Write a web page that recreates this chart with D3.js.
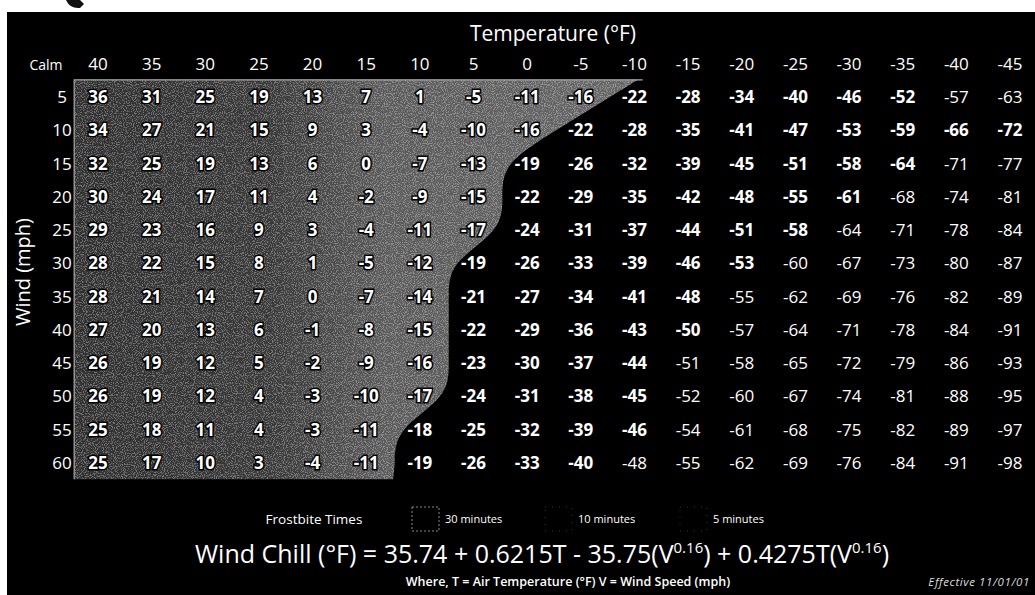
<!DOCTYPE html>
<html>
<head>
<meta charset="utf-8">
<script src="https://cdn.jsdelivr.net/npm/d3@7"></script>
<style>
  html,body{margin:0;padding:0;background:#fff;}
  svg{display:block;}
  text{font-family:"Open Sans","Noto Sans",sans-serif;}
</style>
</head>
<body>
<svg id="chart" width="1035" height="595"></svg>
<script>
// ---- data ----
const temperatures = [40,35,30,25,20,15,10,5,0,-5,-10,-15,-20,-25,-30,-35,-40,-45];
const tempLabels = ["40","35","30","25","20","15","10","5","0","-5","-10","-15","-20","-25","-30","-35","-40","-45"];
const winds = [5,10,15,20,25,30,35,40,45,50,55,60];
const chill5  = [36,31,25,19,13,7,1,-5,-11,-16,-22,-28,-34,-40,-46,-52,-57,-63];
const chill10 = [34,27,21,15,9,3,-4,-10,-16,-22,-28,-35,-41,-47,-53,-59,-66,-72];
const chill15 = [32,25,19,13,6,0,-7,-13,-19,-26,-32,-39,-45,-51,-58,-64,-71,-77];
const chill20 = [30,24,17,11,4,-2,-9,-15,-22,-29,-35,-42,-48,-55,-61,-68,-74,-81];
const chill25 = [29,23,16,9,3,-4,-11,-17,-24,-31,-37,-44,-51,-58,-64,-71,-78,-84];
const chill30 = [28,22,15,8,1,-5,-12,-19,-26,-33,-39,-46,-53,-60,-67,-73,-80,-87];
const chill35 = [28,21,14,7,0,-7,-14,-21,-27,-34,-41,-48,-55,-62,-69,-76,-82,-89];
const chill40 = [27,20,13,6,-1,-8,-15,-22,-29,-36,-43,-50,-57,-64,-71,-78,-84,-91];
const chill45 = [26,19,12,5,-2,-9,-16,-23,-30,-37,-44,-51,-58,-65,-72,-79,-86,-93];
const chill50 = [26,19,12,4,-3,-10,-17,-24,-31,-38,-45,-52,-60,-67,-74,-81,-88,-95];
const chill55 = [25,18,11,4,-3,-11,-18,-25,-32,-39,-46,-54,-61,-68,-75,-82,-89,-97];
const chill60 = [25,17,10,3,-4,-11,-19,-26,-33,-40,-48,-55,-62,-69,-76,-84,-91,-98];
const chillRows = [chill5,chill10,chill15,chill20,chill25,chill30,chill35,chill40,chill45,chill50,chill55,chill60];
// temperature of the last column without frostbite risk, per wind row
const safeLastTemp = [-5,0,5,5,5,10,10,10,10,10,15,15];
// temperature of the first 5-minute frostbite column, per wind row
const fiveMinFirstTemp = [-40,-50,-40,-35,-30,-25,-20,-20,-15,-15,-15,-10];
const legendLabels = ["30 minutes","10 minutes","5 minutes"];

// ---- layout ----
const svg = d3.select("#chart");
const W = 1035, H = 595;

svg.append("rect").attr("x",0).attr("y",0).attr("width",W).attr("height",H).attr("fill","#fff");
svg.append("rect").attr("x",7).attr("y",12).attr("width",W-7).attr("height",H-12).attr("fill","#000");
// scan artefact at top
svg.append("path").attr("d","M66,0 Q70,9 80,8 L84,4 L80,0 Z").attr("fill","#111");

const x = d3.scalePoint().domain(temperatures).range([98,1010]);
const y = d3.scalePoint().domain(winds).range([97,463]);
const step = x.step();
const rowStep = y.step();

// defs
const defs = svg.append("defs");
const grad = defs.append("linearGradient").attr("id","g").attr("x1","0").attr("x2","1").attr("y1","0").attr("y2","0");
grad.append("stop").attr("offset","0").attr("stop-color","#2f2f2f");
grad.append("stop").attr("offset","0.35").attr("stop-color","#383838");
grad.append("stop").attr("offset","0.55").attr("stop-color","#5a5a5a");
grad.append("stop").attr("offset","1").attr("stop-color","#666");

const f = defs.append("filter").attr("id","speck").attr("x","0").attr("y","0").attr("width","1").attr("height","1");
f.append("feTurbulence").attr("type","fractalNoise").attr("baseFrequency","0.9").attr("numOctaves","1").attr("seed","7").attr("result","t");
f.append("feColorMatrix").attr("in","t").attr("type","matrix")
  .attr("values","0 0 0 0 1  0 0 0 0 1  0 0 0 0 1  7 0 0 0 -3.4").attr("result","w");
f.append("feComposite").attr("in","w").attr("in2","SourceGraphic").attr("operator","in");

// safe (gray) region path
const regTop = y(5) - rowStep/2 - 0.5;
const regBottom = y(60) + rowStep/2 - 0.5;
const regLeft = x(40) - step/2 + 3;
const pts = [];
pts.push([x(safeLastTemp[0]) + step/2 + 30, regTop]);
winds.forEach((w,i)=>{ pts.push([x(safeLastTemp[i]) + step/2 + 2, y(w)]); });
pts.push([x(safeLastTemp[safeLastTemp.length-1]) + step/2, regBottom]);
const edge = d3.line().curve(d3.curveBasis)(pts);
const regionD = `M${regLeft},${regTop} L${pts[0][0]},${regTop} ` + edge.replace(/^M[^CL]*/, "L"+pts[0][0]+","+pts[0][1]) + ` L${regLeft},${regBottom} Z`;

svg.append("path").attr("d",regionD).attr("fill","url(#g)");
svg.append("path").attr("d",regionD).attr("fill","#fff").attr("filter","url(#speck)").attr("opacity",0.32);
svg.append("path").attr("d",`M${regLeft},${regBottom} L${regLeft},${regTop} L${pts[0][0]+5},${regTop}`).attr("fill","none").attr("stroke","#aaa").attr("stroke-width",1.2);

// title
svg.append("text").attr("x",553).attr("y",41).attr("text-anchor","middle")
  .attr("fill","#fff").attr("font-size",21).text("Temperature (°F)");

// header row
const headY = 70;
svg.append("text").attr("x",46).attr("y",headY).attr("text-anchor","middle").attr("fill","#fff").attr("font-size",14).text("Calm");
svg.selectAll("text.th").data(temperatures).join("text").attr("class","th")
  .attr("x",d=>x(d)).attr("y",headY).attr("text-anchor","middle").attr("fill","#fff").attr("font-size",17)
  .text((d,i)=>tempLabels[i]);

// row labels
svg.selectAll("text.rl").data(winds).join("text").attr("class","rl")
  .attr("x",62).attr("y",d=>y(d)+6).attr("text-anchor","middle").attr("fill","#fff").attr("font-size",17).text(d=>d);

// axis title
svg.append("text").attr("transform","translate(30,272) rotate(-90)").attr("text-anchor","middle")
  .attr("fill","#fff").attr("font-size",20).text("Wind (mph)");

// cells
const cells = [];
winds.forEach((w,i)=>{
  temperatures.forEach((t,j)=>{
    cells.push({w,t,v:chillRows[i][j],safe:t>=safeLastTemp[i],five:t<=fiveMinFirstTemp[i]});
  });
});
const cellG = svg.append("g");
cellG.selectAll("text").data(cells).join("text")
  .attr("x",d=>x(d.t)).attr("y",d=>y(d.w)+6).attr("text-anchor","middle")
  .attr("font-size",17)
  .attr("font-weight",d=>d.five?400:700)
  .attr("fill","#fff")
  .attr("stroke",d=>d.safe?"#000":"none").attr("stroke-width",d=>d.safe?3:0)
  .attr("paint-order","stroke")
  .text(d=>String(d.v));

// legend
const legY = 519;
svg.append("text").attr("x",314).attr("y",legY+5).attr("text-anchor","middle").attr("fill","#fff").attr("font-size",13.5).text("Frostbite Times");
const legX = [412,545,680];
legX.forEach((lx,i)=>{
  svg.append("rect").attr("x",lx).attr("y",legY-12).attr("width",27).attr("height",24)
    .attr("fill","#000").attr("stroke",i===0?"#888":"#333").attr("stroke-width",1).attr("stroke-dasharray",i===0?"2,2":"1,6");
  svg.append("text").attr("x",lx+33).attr("y",legY+4).attr("fill","#fff").attr("font-size",11).text(legendLabels[i]);
});

// formula
const fm = svg.append("text").attr("x",542).attr("y",563).attr("text-anchor","middle").attr("fill","#fff").attr("font-size",25);
fm.append("tspan").text("Wind Chill (°F) = 35.74 + 0.6215T - 35.75(V");
fm.append("tspan").attr("dy",-10).attr("font-size",15).text("0.16");
fm.append("tspan").attr("dy",10).text(") + 0.4275T(V");
fm.append("tspan").attr("dy",-10).attr("font-size",15).text("0.16");
fm.append("tspan").attr("dy",10).text(")");

svg.append("text").attr("x",568).attr("y",586).attr("text-anchor","middle").attr("fill","#fff").attr("font-size",12.5).attr("font-weight",600)
  .text("Where, T = Air Temperature (°F)  V = Wind Speed (mph)");
svg.append("text").attr("x",1030).attr("y",586).attr("text-anchor","end").attr("fill","#ddd").attr("font-size",11.5).attr("font-style","italic")
  .attr("letter-spacing",0.6).text("Effective 11/01/01");
</script>
</body>
</html>
